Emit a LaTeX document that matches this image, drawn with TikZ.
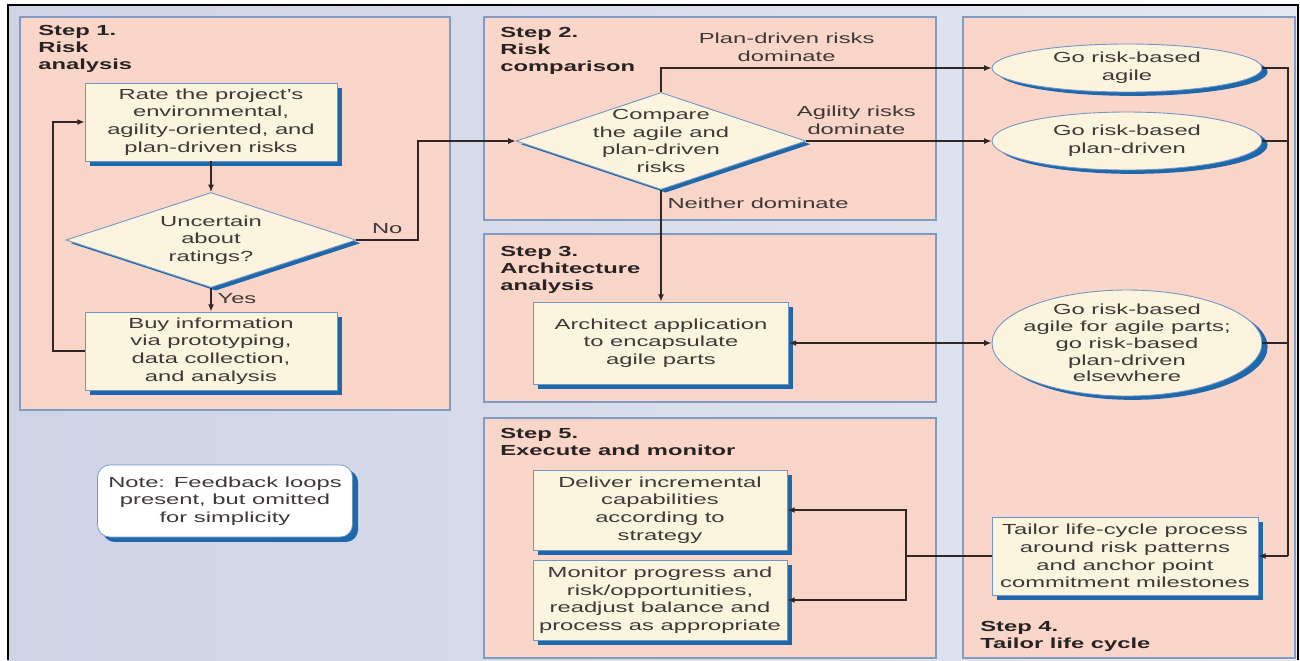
\documentclass[tikz,border=0pt]{standalone}
\usepackage{fontspec}
\setmainfont{Liberation Sans}[FakeStretch=1.63]
\usetikzlibrary{shapes.geometric,shadows,arrows.meta}

\definecolor{panelpink}{RGB}{249,214,201}
\definecolor{panelline}{RGB}{126,156,196}
\definecolor{boxcream}{RGB}{253,244,223}
\definecolor{boxline}{RGB}{112,150,198}
\definecolor{boxshadow}{RGB}{32,104,172}
\definecolor{inktext}{RGB}{62,56,56}
\definecolor{inkstep}{RGB}{40,35,35}
\definecolor{wireline}{RGB}{48,38,36}
\definecolor{bgleft}{RGB}{206,211,229}
\definecolor{bgright}{RGB}{228,232,241}

\begin{document}
\begin{tikzpicture}[x=0.02cm,y=-0.02cm,
  font=\fontsize{8.3}{10}\selectfont, text=inktext, >={Latex[length=4.2pt,width=3.4pt]},
  panel/.style={fill=panelpink,draw=panelline,line width=0.6pt},
  steplabel/.style={anchor=north west,inner sep=0pt,align=left,text=inkstep,
    font=\fontsize{8.3}{9.7}\selectfont\bfseries},
  taskbox/.style={rectangle,fill=boxcream,draw=boxline,line width=0.4pt,align=center,inner sep=0pt,
    drop shadow={fill=boxshadow,opacity=1,shadow xshift=2.8pt,shadow yshift=-2.8pt}},
  decide/.style={diamond,aspect=3,fill=boxcream,draw=boxline,line width=0.5pt,inner sep=0pt,
    drop shadow={fill=boxshadow,opacity=1,shadow xshift=2.6pt,shadow yshift=-1.8pt}},
  choice/.style={ellipse,fill=boxcream,draw=boxline,line width=0.5pt,inner sep=0pt,
    drop shadow={fill=boxshadow,opacity=1,shadow xshift=3.2pt,shadow yshift=-2.2pt}},
  inside/.style={align=center,inner sep=0pt},
  wire/.style={draw=wireline,thick}]
\useasboundingbox (0,0) rectangle (1300,660);
\fill[white] (0,0) rectangle (1300,660);
\shade[left color=bgleft,right color=bgright] (8,5) rectangle (1298,660);
\draw[line width=1.2pt] (8,660) -- (8,5) -- (1298,5) -- (1298,660);

\draw[panel] (20,17) rectangle (450,410);
\draw[panel] (484,17) rectangle (936,220);
\draw[panel] (484,234) rectangle (936,402);
\draw[panel] (484,418) rectangle (936,658);
\draw[panel] (963,17) rectangle (1295,658);

\node[steplabel] (s1) at (38,25) {Step 1.\\Risk\\analysis};
\node[steplabel] (s2) at (500,27) {Step 2.\\Risk\\comparison};
\node[steplabel] (s3) at (500,246) {Step 3.\\Architecture\\analysis};
\node[steplabel] (s5) at (500,428) {Step 5.\\Execute and monitor};
\node[steplabel] (s4) at (980,621) {Step 4.\\Tailor life cycle};

\node[taskbox,minimum width=5.04cm,minimum height=1.56cm] (rate) at (211,122)
  {Rate the project's\\environmental,\\agility-oriented, and\\plan-driven risks};
\node[decide,minimum width=5.8cm,minimum height=1.9cm] (unc) at (211,240) {};
\node[inside] at (unc) {Uncertain\\about\\ratings?};
\node[taskbox,minimum width=5.04cm,minimum height=1.56cm] (buy) at (211,351)
  {Buy information\\via prototyping,\\data collection,\\and analysis};

\node[decide,minimum width=5.8cm,minimum height=1.94cm] (cmp) at (661,141) {};
\node[inside] at (cmp) {Compare\\the agile and\\plan-driven\\risks};
\node[taskbox,minimum width=5.1cm,minimum height=1.64cm] (arch) at (661,343)
  {Architect application\\to encapsulate\\agile parts};
\node[taskbox,minimum width=5.08cm,minimum height=1.6cm] (deliver) at (660,510)
  {Deliver incremental\\capabilities\\according to\\strategy};
\node[taskbox,minimum width=5.08cm,minimum height=1.6cm] (monitor) at (660,600)
  {Monitor progress and\\risk/opportunities,\\readjust balance and\\process as appropriate};

\node[choice,minimum width=5.4cm,minimum height=0.96cm] (e1) at (1127,68) {};
\node[inside] at (e1) {Go risk-based\\agile};
\node[choice,minimum width=5.4cm,minimum height=1.16cm] (e2) at (1127,141) {};
\node[inside] at (e2) {Go risk-based\\plan-driven};
\node[choice,minimum width=5.4cm,minimum height=2.12cm] (e3) at (1127,343) {};
\node[inside,font=\fontsize{8.3}{9.6}\selectfont] at (e3) {Go risk-based\\agile for agile parts;\\go risk-based\\plan-driven\\elsewhere};
\node[taskbox,minimum width=5.32cm,minimum height=1.56cm] (tailor) at (1125,556)
  {Tailor life-cycle process\\around risk patterns\\and anchor point\\commitment milestones};

\node[taskbox,fill=white,rounded corners=7pt,minimum width=5.1cm,minimum height=1.44cm,
  drop shadow={fill=boxshadow,opacity=1,shadow xshift=3.2pt,shadow yshift=-2.8pt}] (note) at (225,501)
  {Note: Feedback loops\\present, but omitted\\for simplicity};

\coordinate (loopback) at (53,351);
\coordinate (nobend) at (418,240);
\coordinate (bus) at (1288,556);
\coordinate (fork) at (906,556);

\draw[wire,->] (rate) -- (unc);
\draw[wire,->] (unc) -- node[right,pos=0.45] {Yes} (buy);
\draw[wire,->] (buy.west) -- (loopback) |- (rate.west);
\draw[wire,->] (unc.east) -- node[above] {No} (nobend) |- (cmp.west);
\draw[wire,->] (cmp.north) |- node[above,pos=0.69,align=center] {Plan-driven risks\\dominate} (e1.west);
\draw[wire,->] (cmp.east) -- node[above,pos=0.27,align=center] {Agility risks\\dominate} (e2.west);
\draw[wire,->] (cmp.south) -- node[right,pos=0.12] {Neither dominate} (arch.north);
\draw[wire,<->] (arch) -- (e3);
\draw[wire] (e1.east) -| (bus);
\draw[wire] (e2.east) -- (e2.east -| bus);
\draw[wire] (e3.east) -- (e3.east -| bus);
\draw[wire,->] (bus) -- (tailor.east);
\draw[wire] (tailor.west) -- (fork);
\draw[wire,->] (fork) |- (deliver.east);
\draw[wire,->] (fork) |- (monitor.east);
\end{tikzpicture}
\end{document}
